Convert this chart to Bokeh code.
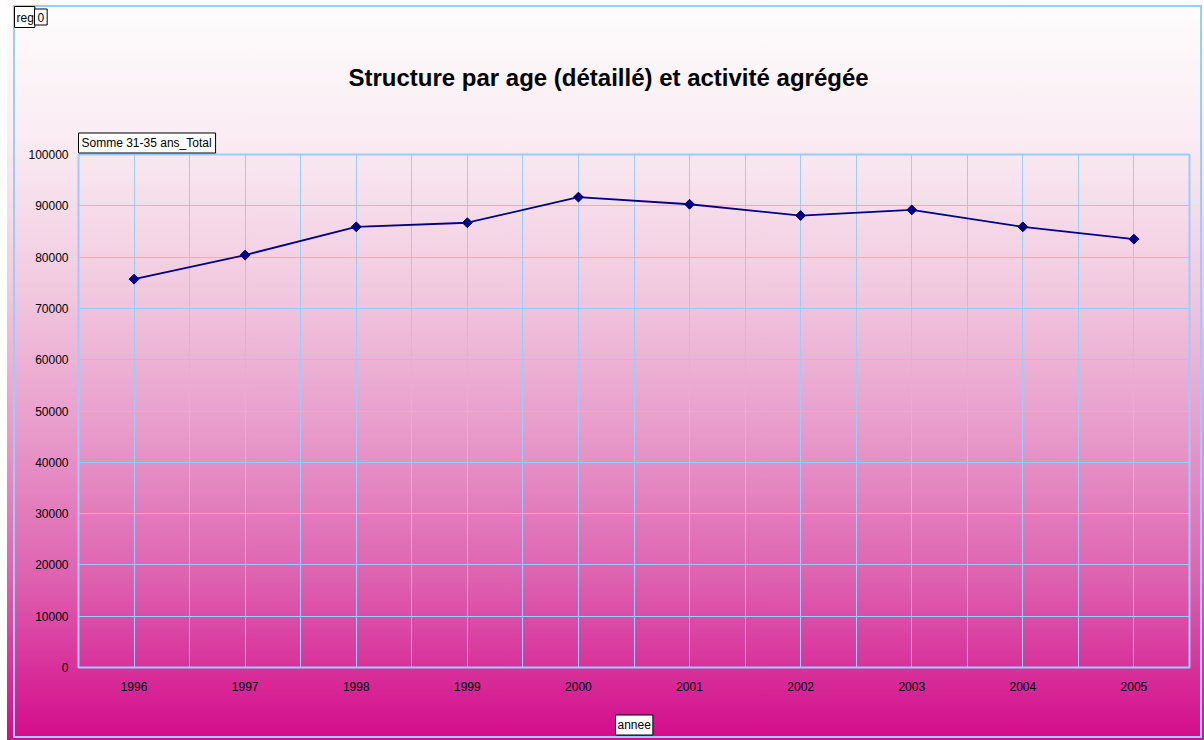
import math
from bokeh.plotting import figure
from bokeh.layouts import column
from bokeh.models import ColumnDataSource, FixedTicker, NumeralTickFormatter, Label, Range1d, Title
from bokeh.embed import file_html
from bokeh.resources import INLINE

# ---- data ----
years = [1996, 1997, 1998, 1999, 2000, 2001, 2002, 2003, 2004, 2005]
year_labels = ["1996", "1997", "1998", "1999", "2000", "2001", "2002", "2003", "2004", "2005"]
values = [75700, 80400, 85900, 86700, 91700, 90300, 88100, 89200, 85900, 83500]
y_ticks = [0, 10000, 20000, 30000, 40000, 50000, 60000, 70000, 80000, 90000, 100000]
title_text = "Structure par age (détaillé) et activité agrégée"
series_name = "Somme 31-35 ans_Total"
page_field = ["reg", "0"]
x_field = "annee"

FONT = "Liberation Sans"
GRID = "#99ccff"
W, H = 1204, 740
TOP_H = 110
BOT_H = 30


def strip(height):
    f = figure(width=W, height=height, output_backend="svg", toolbar_location=None,
               x_range=Range1d(0, W), y_range=Range1d(height, 0),
               x_axis_type=None, y_axis_type=None,
               min_border_left=0, min_border_right=0, min_border_top=0, min_border_bottom=0)
    f.frame_align = False
    f.border_fill_color = None
    f.background_fill_color = None
    f.outline_line_color = None
    f.grid.visible = False
    return f


def button(x, y, text, pad):
    return Label(x=x, y=y, text=text,
                 text_font=FONT, text_font_size="12px", text_color="#000000",
                 text_align="left", text_baseline="middle",
                 background_fill_color="white", border_line_color="black",
                 border_line_width=1, padding=pad)


# ---------- top strip (page field buttons + title) ----------
top = strip(TOP_H)
top.add_layout(button(14, 16.5, page_field[0], dict(left=2, right=1, top=4, bottom=3)))
top.add_layout(button(34, 16.5, page_field[1], dict(left=3, right=3, top=4, bottom=3)))
top.add_layout(Label(x=608, y=76.5, text=title_text, text_font=FONT, text_font_size="24px",
                     text_font_style="bold", text_align="center", text_baseline="alphabetic",
                     text_color="#000000"))

# ---------- main chart ----------
src = ColumnDataSource(dict(x=years, y=values))
MAIN_H = H - TOP_H - BOT_H

p = figure(width=W, height=MAIN_H, output_backend="svg", toolbar_location=None,
           x_range=Range1d(years[0] - 0.5, years[-1] + 0.5),
           y_range=Range1d(y_ticks[0], y_ticks[-1]),
           min_border_left=78, min_border_right=15,
           min_border_top=154 - TOP_H, min_border_bottom=(TOP_H + MAIN_H) - 667)
p.frame_align = False
p.border_fill_color = None
p.background_fill_color = None
p.outline_line_color = GRID
p.outline_line_width = 2

p.xaxis.ticker = FixedTicker(ticks=years, minor_ticks=[y + 0.5 for y in years[:-1]])
p.xaxis.major_label_overrides = {yr: lab for yr, lab in zip(years, year_labels)}
p.yaxis.ticker = FixedTicker(ticks=y_ticks)
p.yaxis.formatter = NumeralTickFormatter(format="0")
for ax in (p.xaxis[0], p.yaxis[0]):
    ax.axis_line_color = None
    ax.major_tick_line_color = None
    ax.minor_tick_line_color = None
    ax.major_tick_out = 0
    ax.major_tick_in = 0
    ax.minor_tick_out = 0
    ax.major_label_text_font = FONT
    ax.major_label_text_font_size = "12px"
    ax.major_label_text_color = "#000000"
p.xaxis.major_label_standoff = 14
p.yaxis.major_label_standoff = 10

p.xgrid.grid_line_color = GRID
p.xgrid.minor_grid_line_color = GRID
p.ygrid.grid_line_color = GRID

p.line("x", "y", source=src, line_color="#000080", line_width=1.8)
p.scatter("x", "y", source=src, marker="square", size=7, angle=math.pi / 4,
          fill_color="#000080", line_color="#000080")

p.add_layout(Title(text=series_name, align="left", offset=0, standoff=3,
                   text_font=FONT, text_font_size="12px", text_font_style="normal",
                   text_color="#000000", background_fill_color="white",
                   border_line_color="black", border_line_width=1,
                   padding=dict(left=3, right=4, top=3, bottom=3)), "above")

# ---------- bottom strip (category field button) ----------
bot = strip(BOT_H)
bot.add_layout(button(615, 14.5, x_field, dict(left=2, right=2, top=3, bottom=3)))

layout = column(top, p, bot, spacing=0, width=W, height=H)
B = "#99ccff"
layout.styles = {
    "background": ", ".join([
        f"linear-gradient({B},{B}) 13px 5px / 2px 733px no-repeat",
        f"linear-gradient({B},{B}) 13px 5px / 1189px 2px no-repeat",
        f"linear-gradient({B},{B}) 1200px 5px / 2px 733px no-repeat",
        f"linear-gradient({B},{B}) 13px 736px / 1189px 2px no-repeat",
        "linear-gradient(to right, #ffffff 7px, transparent 7px)",
        "linear-gradient(to bottom, #fefdfd 0%, #faedf3 18%, #f2cbe0 38%, #e89ccb 58%, #de62b0 78%, #d40a8a 100%)",
    ]),
}

open("out.html", "w").write(file_html(layout, INLINE))
